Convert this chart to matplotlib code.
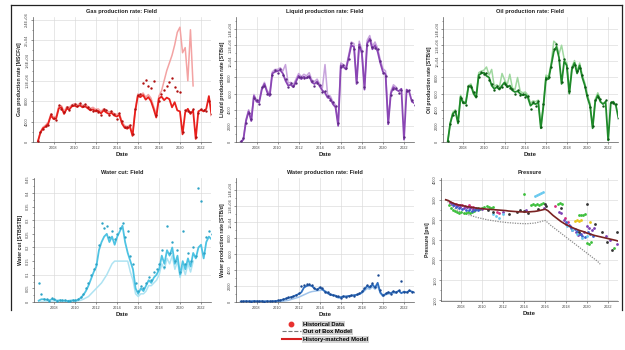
import numpy as np
import matplotlib
matplotlib.use("Agg")
import matplotlib.pyplot as plt
from matplotlib.lines import Line2D
from matplotlib.ticker import MultipleLocator

plt.rcParams['font.family'] = ['Liberation Sans', 'DejaVu Sans']

# ---------------- data ----------------
dates = np.arange(2006.5, 2023.001, 0.25)   # quarterly sample dates (67)
n_oob = 60                                   # out-of-box model runs to 2021.25

year_ticks = [2008, 2010, 2012, 2014, 2016, 2018, 2020, 2022]
year_labels = ['2008', '2010', '2012', '2014', '2016', '2018', '2020', '2022']

gas_hm = [0, 1800, 2700, 3000, 3600, 5200, 4500, 4600, 6600, 6800,
          5500, 6500, 6400, 7000, 7100, 6900, 7200, 6800, 7000, 6600,
          6200, 6400, 6000, 6100, 5600, 6200, 5800, 5500, 5700, 5200,
          5000, 5300, 3600, 2800, 2600, 3000, 1200, 6000, 9000, 8800,
          9200, 8300, 8800, 8000, 6500, 4800, 8500, 8900, 8200, 8700,
          8400, 6800, 7800, 6200, 6000, 1500, 5800, 6500, 5500, 6200,
          600, 6000, 6300, 6000, 6500, 9000, 5200]
gas_hist = [200, 2000, 2500, 3200, 3400, 5500, 4800, 4300, 7200, 6500,
            5800, 6800, 6200, 7300, 7400, 7000, 7600, 7000, 7500, 6800,
            6500, 6000, 6300, 5800, 5300, 6500, 6200, 5200, 6000, 5500,
            4600, 5600, 4200, 3000, 2900, 3400, 1600, 6500, 9300, 9500,
            11500, 12200, 11000, 10500, 12000, 5200, 8000, 9500, 10200, 11000,
            11800, 12600, 10800, 10000, 9800, 2000, 6200, 6000, 5800, 6500,
            900, 5700, 6500, 6200, 6000, 8000, 5500]
gas_oob = [0, 2000, 2900, 3300, 3900, 5500, 4900, 5000, 7000, 7100,
           6000, 6900, 6800, 7300, 7500, 7300, 7500, 7200, 7300, 7000,
           6600, 6800, 6400, 6500, 6000, 6500, 6200, 5900, 6000, 5600,
           5400, 5600, 4000, 3200, 3000, 3300, 1500, 6300, 9400, 9200,
           9600, 8800, 9300, 8600, 7000, 5500, 9000, 10000, 12000, 14000,
           15500, 17000, 19000, 21500, 22500, 17500, 18500, 12000, 22000, 11000]

liq_hm = [0, 300, 2600, 3800, 2600, 5700, 5000, 4900, 6500, 7200,
          6200, 5700, 8500, 8700, 8800, 8900, 8500, 7600, 7000, 7100,
          6800, 7500, 8200, 7800, 8100, 7900, 8200, 7400, 7200, 7500,
          6900, 6400, 6100, 5500, 5400, 4700, 4300, 2000, 9500, 9300,
          9000, 10500, 12000, 11800, 7200, 12100, 11000, 6500, 12200, 12800,
          11500, 12000, 11200, 9800, 8700, 8400, 2200, 6000, 6800, 6500,
          6300, 6600, 300, 6500, 6200, 5000, 4800]
liq_hist = [100, 500, 2400, 3600, 2900, 5500, 5200, 4700, 6800, 7000,
            6000, 5900, 8300, 8900, 8600, 9000, 8300, 7800, 6800, 7300,
            7000, 7300, 8000, 8000, 7900, 8100, 8000, 7600, 7000, 7300,
            7100, 6200, 6300, 5700, 5200, 4900, 4500, 2300, 9300, 9600,
            9200, 10300, 12300, 11500, 7500, 11800, 11300, 6800, 12000, 12600,
            11800, 11700, 11500, 10000, 8500, 8200, 2500, 5800, 6600, 6700,
            6100, 6400, 600, 6300, 6400, 5200, 4600]
liq_oob = [0, 400, 2800, 4000, 2800, 5900, 5200, 5100, 6700, 7400,
           6400, 6000, 8700, 9000, 9000, 9200, 8800, 9600, 7300, 7400,
           7100, 7800, 8500, 8100, 8400, 8200, 8600, 7700, 7500, 7800,
           7200, 6700, 9600, 5800, 5700, 5000, 4600, 2300, 9800, 9600,
           9300, 10800, 12400, 12200, 7600, 12500, 11400, 6800, 12600, 13200,
           11900, 12400, 11600, 10200, 9100, 8800, 2500, 6300, 7100, 6800]

oil_hm = [0, 2300, 3500, 3800, 2300, 5600, 4800, 4800, 6800, 7000,
          6000, 5500, 8300, 8500, 8600, 8200, 8000, 7000, 6600, 6800,
          6500, 7000, 7400, 6800, 7000, 6400, 6200, 6300, 6000, 5800,
          5900, 5500, 4500, 4800, 4700, 4900, 1700, 4500, 8000, 7800,
          9500, 11200, 11800, 10500, 7200, 10000, 9500, 6000, 9000, 9800,
          8500, 9500, 8000, 7000, 5500, 4500, 1700, 5000, 5800, 5000,
          4700, 5000, 200, 4800, 5000, 4500, 2900]
oil_hist = [100, 2200, 3300, 3900, 2600, 5400, 5000, 4600, 7000, 6800,
            6200, 5700, 8100, 8700, 8400, 8500, 7700, 7200, 6400, 7000,
            6700, 6800, 7200, 7000, 6700, 6600, 6000, 6500, 5800, 6000,
            5600, 5700, 4100, 5000, 4500, 5100, 1900, 4700, 7800, 8100,
            9300, 11500, 12200, 10200, 7500, 10300, 9200, 6300, 9300, 9500,
            8800, 9200, 8300, 6800, 5800, 4300, 2000, 5200, 5600, 5300,
            4500, 5200, 400, 5000, 4800, 4700, 3000]
oil_oob = [0, 2400, 3700, 4000, 2500, 5800, 5000, 5000, 7000, 7200,
           6200, 5800, 8600, 8800, 8900, 9300, 8300, 9000, 6900, 7100,
           6800, 8500, 7700, 7100, 8400, 6700, 6500, 8000, 6300, 6100,
           6200, 5800, 4800, 5100, 5000, 5200, 1900, 4700, 8300, 8100,
           9800, 12500, 12200, 10900, 12000, 10300, 9800, 6300, 9300, 10100,
           8800, 9800, 8300, 7300, 5800, 4800, 1900, 5300, 6100, 5300]

wc_hm = [0.005, 0.01, 0.01, 0.008, 0.006, 0.01, 0.008, 0.005, 0.006, 0.005,
         0.005, 0.004, 0.005, 0.006, 0.005, 0.008, 0.015, 0.025, 0.04, 0.06,
         0.085, 0.11, 0.13, 0.19, 0.22, 0.24, 0.25, 0.22, 0.24, 0.21,
         0.24, 0.26, 0.28, 0.22, 0.18, 0.15, 0.12, 0.05, 0.03, 0.05,
         0.04, 0.06, 0.08, 0.07, 0.09, 0.10, 0.12, 0.17, 0.14, 0.19,
         0.17, 0.20, 0.14, 0.17, 0.10, 0.15, 0.12, 0.16, 0.13, 0.18,
         0.16, 0.20, 0.21, 0.16, 0.22, 0.24, 0.23]
wc_hist = [0.07, 0.03, 0.01, 0.012, 0.004, 0.015, 0.01, 0.004, 0.008, 0.006,
           0.006, 0.005, 0.004, 0.008, 0.006, 0.01, 0.02, 0.03, 0.05, 0.07,
           0.10, 0.12, 0.14, 0.21, 0.29, 0.27, 0.28, 0.24, 0.26, 0.23,
           0.25, 0.27, 0.29, 0.24, 0.26, 0.17, 0.14, 0.07, 0.04, 0.06,
           0.05, 0.07, 0.09, 0.08, 0.11, 0.12, 0.14, 0.19, 0.13, 0.28,
           0.18, 0.22, 0.15, 0.19, 0.11, 0.26, 0.14, 0.18, 0.15, 0.20,
           0.17, 0.42, 0.37, 0.18, 0.24, 0.26, 0.25]
wc_oob = [0.0, 0.0, 0.0, 0.0, 0.0, 0.0, 0.0, 0.0, 0.0, 0.0,
          0.0, 0.0, 0.0, 0.0, 0.002, 0.004, 0.006, 0.01, 0.015, 0.02,
          0.03, 0.04, 0.05, 0.06, 0.07, 0.085, 0.10, 0.12, 0.14, 0.15,
          0.15, 0.15, 0.15, 0.15, 0.15, 0.11, 0.08, 0.03, 0.02, 0.03,
          0.03, 0.04, 0.06, 0.06, 0.07, 0.08, 0.10, 0.14, 0.12, 0.16,
          0.14, 0.17, 0.12, 0.15, 0.09, 0.13, 0.10, 0.14, 0.11, 0.15]

wp_hm = [50, 80, 100, 80, 100, 120, 100, 80, 100, 90,
         100, 80, 100, 120, 150, 200, 300, 400, 500, 600,
         700, 850, 1000, 1200, 1800, 2000, 2100, 2000, 1700, 1500,
         1800, 1600, 1300, 1100, 900, 850, 800, 600, 600, 700,
         700, 750, 800, 850, 900, 1000, 1200, 1600, 2000, 1800,
         2200, 1800, 2400, 1200, 800, 1000, 1200, 1100, 1300, 1200,
         1400, 1100, 1300, 1200, 1400, 1300, 1200]
wp_hist = [100, 150, 80, 120, 60, 150, 80, 100, 120, 60,
           80, 100, 120, 100, 200, 250, 350, 450, 600, 650,
           800, 900, 1100, 2000, 2100, 2200, 2300, 2100, 1800, 1600,
           1900, 1700, 1200, 1200, 1000, 900, 700, 700, 500, 800,
           650, 800, 900, 800, 1000, 1100, 1400, 1700, 2100, 2000,
           2400, 1900, 3400, 1500, 900, 1100, 1300, 1000, 1400, 1300,
           1500, 2600, 1200, 1300, 1500, 1200, 1300]
wp_oob = [0, 0, 0, 0, 0, 0, 0, 0, 0, 0,
          0, 0, 0, 0, 20, 50, 100, 150, 200, 300,
          400, 500, 600, 750, 900, 1050, 1200, 1300, 1350, 1400,
          1450, 1500, 1400, 1200, 1000, 900, 700, 500, 500, 600,
          650, 700, 750, 800, 850, 950, 1100, 1400, 1700, 1600,
          1900, 1600, 2000, 1100, 700, 900, 1000, 1000, 1100, 1100]

pres_hm = [3500, 3480, 3440, 3410, 3385, 3370, 3360, 3345, 3330, 3320,
           3310, 3300, 3290, 3285, 3280, 3270, 3265, 3260, 3255, 3250,
           3245, 3240, 3235, 3230, 3220, 3215, 3210, 3205, 3200, 3200,
           3195, 3195, 3200, 3205, 3210, 3220, 3235, 3250, 3265, 3230,
           3170, 3110, 3060, 3010, 2960, 2920, 2880, 2850, 2820, 2790,
           2765, 2740, 2720, 2700, 2670, 2650, 2630, 2610, 2595, 2580,
           2565, 2550, 2535, 2520, 2505, 2490, 2470]
pres_oob = [3500, 3440, 3370, 3310, 3260, 3220, 3190, 3160, 3140, 3120,
            3100, 3080, 3060, 3045, 3030, 3015, 3000, 2990, 2980, 2970,
            2960, 2950, 2945, 2935, 2930, 2925, 2920, 2915, 2910, 2910,
            2905, 2905, 2910, 2915, 2920, 2935, 2950, 2970, 2985, 2930,
            2870, 2820, 2770, 2720, 2670, 2620, 2570, 2520, 2470, 2420,
            2370, 2320, 2270, 2220, 2170, 2120, 2070, 2020, 1970, 1900]

# historical well pressures, by well colour
p_green_t = [2006.8, 2007.0, 2007.2, 2007.4, 2007.6, 2007.8, 2008.0, 2008.2, 2008.4, 2008.6,
             2008.8, 2009.0, 2009.2, 2009.4, 2009.6, 2009.8, 2010.0, 2010.2, 2010.4, 2010.6,
             2010.8, 2011.0, 2014.0, 2014.6, 2014.8, 2015.0, 2015.2, 2015.4, 2015.6, 2015.8,
             2017.2, 2017.4, 2017.6, 2019.2, 2019.4, 2019.6, 2019.8, 2020.0, 2020.2, 2020.4, 2022.6]
p_green_v = [3380, 3300, 3250, 3220, 3200, 3180, 3190, 3170, 3160, 3200,
             3180, 3200, 3220, 3260, 3300, 3280, 3300, 3320, 3350, 3330,
             3300, 3310, 3650, 3380, 3390, 3370, 3400, 3380, 3390, 3410,
             3390, 3410, 3400, 3130, 3120, 3110, 3140, 2430, 2410, 2440, 2300]
p_mag_t = [2006.9, 2007.1, 2007.3, 2007.5, 2007.7, 2007.9, 2008.1, 2008.3, 2008.5, 2008.7,
           2008.9, 2009.1, 2011.4, 2011.6, 2016.9, 2017.9, 2018.2]
p_mag_v = [3450, 3430, 3400, 3390, 3380, 3360, 3370, 3340, 3330, 3360,
           3320, 3310, 3200, 3180, 3350, 3050, 2950]
p_pur_t = [2007.0, 2007.3, 2007.6, 2007.9, 2008.2, 2008.5, 2008.8, 2009.1, 2009.4, 2009.7,
           2010.0, 2012.0, 2014.2, 2015.9, 2017.3, 2017.5, 2017.8, 2018.0, 2018.4, 2018.6,
           2018.9, 2019.1, 2019.4, 2019.7, 2020.0, 2020.2, 2020.5, 2020.7, 2021.8, 2022.2, 2022.9]
p_pur_v = [3420, 3380, 3350, 3320, 3300, 3310, 3290, 3280, 3300, 3270,
           3260, 3200, 3240, 3300, 3200, 3180, 3000, 2900, 2850, 2750,
           2700, 2620, 2650, 2700, 2850, 2800, 2750, 2800, 2600, 2500, 2400]
p_blue_t = [2007.2, 2007.5, 2007.8, 2008.1, 2008.4, 2008.7, 2009.0, 2009.3, 2009.6, 2018.0,
            2018.3, 2018.5, 2018.8, 2019.0, 2019.3, 2019.5, 2019.8, 2020.1, 2020.3, 2020.6]
p_blue_v = [3360, 3330, 3300, 3280, 3250, 3240, 3230, 3250, 3240, 2950,
            2880, 2800, 2780, 2720, 2650, 2600, 2580, 2700, 2650, 2600]
p_cyan_t = [2011.0, 2011.3, 2011.6, 2012.0, 2015.0, 2015.2, 2015.4, 2015.6, 2015.8, 2018.1,
            2018.6, 2019.0, 2019.5, 2020.0]
p_cyan_v = [3150, 3100, 3050, 3150, 3600, 3620, 3650, 3660, 3680, 2850,
            2750, 2650, 2550, 2600]
p_yel_t = [2018.8, 2019.0, 2019.2, 2019.4, 2020.3]
p_yel_v = [2980, 2990, 2980, 2990, 2950]
p_blk_t = [2010.5, 2011.0, 2012.5, 2013.3, 2013.6, 2014.0, 2014.4, 2015.3, 2016.0, 2016.1,
           2017.5, 2019.2, 2020.0, 2020.8, 2021.4, 2021.9, 2022.4, 2022.9]
p_blk_v = [3250, 3200, 3150, 3200, 3250, 3230, 3180, 3260, 3400, 3350,
           3300, 2700, 3400, 2900, 2700, 2450, 2250, 2700]

gas_yticks = [0, 4000, 8000, 12000, 16000, 20000, 24000]
gas_ylabels = ['0', '4000', '8000', '1.2E+04', '1.6E+04', '2E+04', '2.4E+04']
liq_yticks = [0, 2000, 4000, 6000, 8000, 10000, 12000, 14000]
liq_ylabels = ['0', '2000', '4000', '6000', '8000', '1E+04', '1.2E+04', '1.4E+04']
wc_yticks = [0, 0.05, 0.1, 0.15, 0.2, 0.25, 0.3, 0.35, 0.4, 0.45]
wc_ylabels = ['0', '0.05', '0.1', '0.15', '0.2', '0.25', '0.3', '0.35', '0.4', '0.45']
p_yticks = [1000, 1500, 2000, 2500, 3000, 3500, 4000]
p_ylabels = ['1000', '1500', '2000', '2500', '3000', '3500', '4000']

legend_labels = ['Historical Data', 'Out of Box Model', 'History-matched Model']

# ---------------- figure ----------------
W, H = 625, 350
fig = plt.figure(figsize=(W / 100, H / 100), dpi=100)


def rect(l, r, t, b):
    return [l / W, 1 - b / H, (r - l) / W, (b - t) / H]


def style(ax, title, ylabel, yticks, ylabels, ylim, grid_step):
    ax.set_xlim(2006.05, 2022.95)
    ax.set_ylim(*ylim)
    ax.set_xticks(year_ticks)
    ax.set_xticklabels(year_labels)
    ax.set_yticks(yticks)
    ax.set_yticklabels(ylabels, rotation=90, va='center')
    ax.yaxis.set_minor_locator(MultipleLocator((yticks[1] - yticks[0]) / 2))
    ax.tick_params(which='both', labelsize=2.8, length=1.5, width=0.4, pad=1.2,
                   colors='#444444')
    ax.tick_params(which='minor', length=1.0)
    ax.grid(True, axis='x', color='#d9d9d9', lw=0.45)
    for g in yticks[::grid_step]:
        ax.axhline(g, color='#d9d9d9', lw=0.45, zorder=0)
    ax.set_axisbelow(True)
    for s in ['top', 'right']:
        ax.spines[s].set_visible(False)
    for s in ['left', 'bottom']:
        ax.spines[s].set_color('#555555')
        ax.spines[s].set_linewidth(0.5)
    ax.set_title(title, fontsize=4.1, fontweight='bold', pad=3, color='#222222')
    ax.set_ylabel(ylabel, fontsize=3.7, fontweight='bold', labelpad=2, color='#222222')
    ax.set_xlabel('Date', fontsize=4.3, fontweight='bold', labelpad=1.5, color='#222222')


def rate_panel(pos, hm, hist, oob, c_line, c_dot, c_oob, title, ylabel,
               yticks, ylabels, ylim, grid_step):
    ax = fig.add_axes(rect(*pos))
    ax.plot(dates[:n_oob], oob, color=c_oob, lw=1.1, zorder=2)
    ax.plot(dates, hm, color=c_line, lw=1.3, zorder=3)
    ax.scatter(dates, hist, s=3.0, color=c_dot, lw=0, zorder=4)
    style(ax, title, ylabel, yticks, ylabels, ylim, grid_step)
    return ax


rate_panel((33, 211, 17, 142), gas_hm, gas_hist, gas_oob, '#e8201c', '#b01010', '#f3a3a3',
           'Gas production rate: Field', 'Gas production rate [MSCF/d]',
           gas_yticks, gas_ylabels, (0, 24500), 1)
rate_panel((236, 414, 17, 142), liq_hm, liq_hist, liq_oob, '#8a46b4', '#5e2a85', '#c7a3dc',
           'Liquid production rate: Field', 'Liquid production rate [STB/d]',
           liq_yticks, liq_ylabels, (0, 15500), 1)
rate_panel((443, 618, 17, 142), oil_hm, oil_hist, oil_oob, '#1f8a2a', '#0d5a14', '#9fd89f',
           'Oil production rate: Field', 'Oil production rate [STB/d]',
           liq_yticks, liq_ylabels, (0, 15500), 1)
rate_panel((34, 211, 178, 302), wc_hm, wc_hist, wc_oob, '#4ec3e3', '#2ea3c6', '#aee3f2',
           'Water cut: Field', 'Water cut [STB/STB]',
           wc_yticks, wc_ylabels, (0, 0.455), 2)
rate_panel((236, 414, 178, 302), wp_hm, wp_hist, wp_oob, '#2f6fc0', '#1b4a92', '#9fc3ea',
           'Water production rate: Field', 'Water production rate [STB/d]',
           liq_yticks, liq_ylabels, (0, 15500), 1)

axp = fig.add_axes(rect(441, 618, 178, 301))
axp.plot(dates[:n_oob], pres_oob, color='#8c8c8c', lw=0.9, ls=(0, (1, 1)), zorder=2)
axp.plot(dates, pres_hm, color='#7a2323', lw=1.2, zorder=4)
for t, v, c in [(p_green_t, p_green_v, '#3cbf3c'), (p_mag_t, p_mag_v, '#d6307f'),
                (p_pur_t, p_pur_v, '#7b3fb3'), (p_blue_t, p_blue_v, '#3a5fcd'),
                (p_cyan_t, p_cyan_v, '#66c8ee'), (p_yel_t, p_yel_v, '#e6c619'),
                (p_blk_t, p_blk_v, '#333333')]:
    axp.scatter(t, v, s=4.0, color=c, lw=0, zorder=3)
style(axp, 'Pressure', 'Pressure [psi]', p_yticks, p_ylabels, (985, 4040), 1)

# legend
handles = [Line2D([], [], marker='o', color='#e8312f', ls='none', ms=3.2),
           Line2D([], [], color='#777777', ls='--', lw=0.8),
           Line2D([], [], color='#d62020', lw=1.5)]
leg = fig.legend(handles, legend_labels, loc='center', bbox_to_anchor=(0.52, 0.052),
                 frameon=False, fontsize=4.2, handlelength=3.2, labelspacing=0.45,
                 handletextpad=0.4, borderpad=0.1)
for t in leg.get_texts():
    t.set_fontweight('bold')
    t.set_bbox(dict(facecolor='#d4d4d4', edgecolor='none', pad=0.6))

# outer frame (open at the bottom)
for xs, ys in [([11, 622], [5, 5]), ([11, 11], [5, 310]), ([622, 622], [5, 310])]:
    fig.add_artist(Line2D([x / W for x in xs], [1 - y / H for y in ys],
                          transform=fig.transFigure, color='#222222', lw=0.9))

fig.savefig('out.png', dpi=100)
